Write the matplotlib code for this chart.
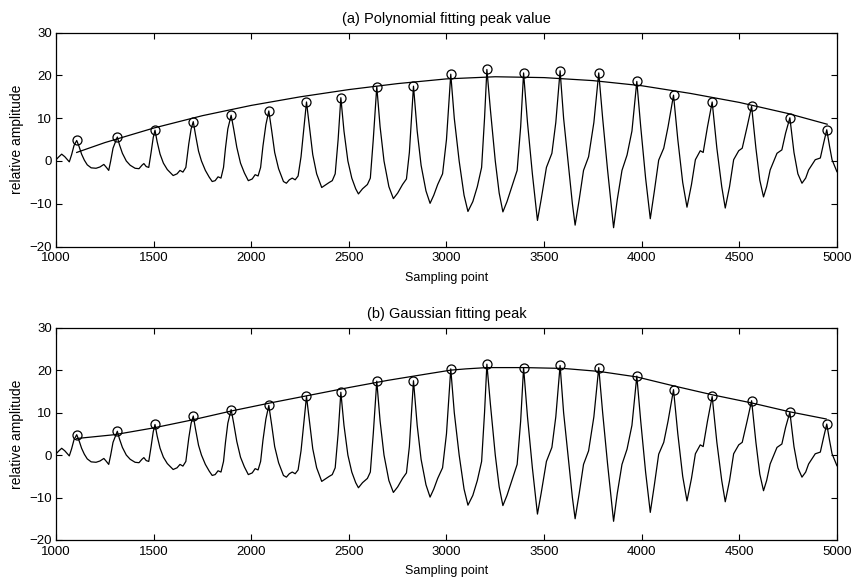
import matplotlib
matplotlib.use("Agg")
import matplotlib.pyplot as plt
import numpy as np

plt.rcParams['font.family'] = ['Liberation Sans', 'DejaVu Sans']

sig_x = [1000, 1015, 1029, 1045, 1068, 1080, 1092, 1106, 1118, 1131, 1145, 1160, 1180, 1205, 1225,
         1245, 1258, 1270, 1280, 1292, 1314, 1325, 1340, 1360, 1380, 1405, 1425, 1440, 1450, 1462,
         1475, 1487, 1498, 1507, 1518, 1533, 1550, 1570, 1600, 1620, 1635, 1650, 1665, 1680, 1692,
         1703, 1715, 1730, 1745, 1765, 1785, 1800, 1815, 1830, 1845, 1858, 1868, 1880, 1897, 1910,
         1926, 1945, 1965, 1985, 2005, 2020, 2035, 2048, 2060, 2075, 2090, 2105, 2120, 2140, 2165,
         2180, 2195, 2210, 2225, 2240, 2255, 2270, 2283, 2298, 2315, 2335, 2361, 2380, 2400, 2415,
         2430, 2445, 2459, 2475, 2495, 2515, 2535, 2549, 2570, 2595, 2610, 2625, 2643, 2660, 2680,
         2705, 2728, 2750, 2775, 2795, 2810, 2831, 2850, 2870, 2895, 2916, 2935, 2955, 2980, 3000,
         3022, 3040, 3065, 3090, 3110, 3135, 3158, 3180, 3195, 3207, 3225, 3250, 3270, 3289, 3310,
         3335, 3362, 3380, 3395, 3415, 3440, 3466, 3485, 3512, 3540, 3560, 3582, 3600, 3625, 3645,
         3659, 3680, 3702, 3728, 3755, 3780, 3800, 3825, 3843, 3856, 3875, 3899, 3925, 3950, 3975,
         3995, 4020, 4044, 4065, 4087, 4113, 4135, 4163, 4185, 4210, 4232, 4255, 4275, 4300, 4315,
         4337, 4361, 4385, 4410, 4428, 4450, 4471, 4497, 4515, 4540, 4563, 4585, 4605, 4624, 4640,
         4658, 4693, 4718, 4737, 4759, 4780, 4800, 4821, 4840, 4855, 4889, 4915, 4932, 4948, 4962,
         4975, 5000]
sig_y = [0.3, 1.0, 1.6, 1.0, -0.2, 1.5, 3.6, 4.8, 3.4, 1.6, 0.2, -0.9, -1.6, -1.7, -1.4,
         -0.8, -1.5, -2.2, 0.0, 3.0, 5.6, 3.8, 1.8, 0.0, -1.0, -1.7, -1.8, -1.0, -0.6, -1.3,
         -1.5, 2.0, 5.5, 7.2, 4.5, 1.6, -0.5, -2.0, -3.4, -3.0, -2.2, -2.6, -1.5, 4.0, 7.5,
         9.2, 6.0, 2.3, 0.0, -2.2, -3.8, -4.8, -4.6, -3.7, -4.0, -1.5, 3.0, 7.5, 10.7, 7.5,
         3.2, -0.5, -2.8, -4.6, -4.2, -3.2, -3.5, -1.5, 3.5, 8.5, 11.7, 7.0, 2.0, -1.8, -4.8,
         -5.2, -4.4, -4.0, -4.4, -3.5, 1.0, 8.0, 13.8, 8.0, 1.5, -3.0, -6.2, -5.6, -5.0, -4.6,
         -3.0, 5.0, 14.8, 7.0, 0.0, -4.0, -6.5, -7.7, -6.5, -5.5, -4.0, 5.0, 17.4, 8.0, 0.0,
         -6.0, -8.8, -7.5, -5.5, -4.2, 2.0, 17.5, 7.0, -1.0, -7.0, -9.9, -8.0, -5.5, -3.0, 5.0,
         20.3, 10.0, 0.0, -8.0, -11.8, -9.5, -6.0, -1.5, 10.0, 21.4, 12.0, 0.0, -7.5, -11.9, -9.5,
         -6.0, -2.2, 8.0, 20.6, 9.0, -3.0, -13.9, -9.0, -1.5, 1.8, 9.0, 21.1, 10.0, -1.0, -10.0,
         -15.0, -9.0, -2.2, 1.0, 9.0, 20.6, 10.0, -2.0, -10.0, -15.6, -9.0, -2.2, 1.4, 7.0, 18.6,
         8.0, -4.0, -13.5, -7.0, 0.2, 3.0, 8.0, 15.4, 5.0, -5.0, -10.8, -5.5, 0.3, 2.4, 2.0,
         8.0, 13.8, 3.0, -6.0, -11.0, -6.0, 0.3, 2.4, 3.0, 8.0, 12.8, 3.0, -4.5, -8.4, -6.0,
         -2.1, 1.8, 2.6, 6.5, 10.1, 2.0, -3.0, -5.2, -4.0, -2.1, 0.3, 0.7, 4.2, 7.3, 3.5,
         0.3, -2.5]

# detected peaks
peak_x = [1106, 1314, 1507, 1703, 1897, 2090, 2283, 2459, 2643, 2831, 3022,
          3207, 3395, 3582, 3780, 3975, 4163, 4361, 4563, 4759, 4948]
peak_y = [4.8, 5.6, 7.2, 9.2, 10.7, 11.7, 13.8, 14.8, 17.4, 17.5, 20.3,
          21.4, 20.6, 21.1, 20.6, 18.6, 15.4, 13.8, 12.8, 10.1, 7.3]

# polynomial fit curve
poly_x = [1106, 1250, 1500, 1750, 2000, 2250, 2500, 2750, 3000, 3250, 3500,
          3750, 4000, 4250, 4500, 4750, 4950]
poly_y = [2.0, 4.3, 7.7, 10.6, 13.0, 15.0, 16.7, 18.1, 19.2, 19.7, 19.5,
          18.8, 17.6, 15.8, 13.7, 11.1, 8.6]

# gaussian fit curve
gauss_x = [1106, 1300, 1500, 1700, 1900, 2100, 2300, 2500, 2700, 2900, 3022,
           3100, 3207, 3400, 3600, 3782, 3975, 4163, 4361, 4561, 4757, 4945]
gauss_y = [3.9, 4.8, 6.4, 8.3, 10.4, 12.3, 14.1, 15.9, 17.6, 19.1, 20.0,
           20.3, 20.6, 20.6, 20.4, 19.7, 18.4, 16.3, 14.2, 12.3, 10.2, 8.5]

fig = plt.figure(figsize=(8.54, 5.81), dpi=100)
ax1 = fig.add_axes([0.0656, 0.5757, 0.9144, 0.368])
ax2 = fig.add_axes([0.0656, 0.0706, 0.9144, 0.3654])

panels = [(ax1, poly_x, poly_y, "(a) Polynomial fitting peak value"),
          (ax2, gauss_x, gauss_y, "(b) Gaussian fitting peak")]

for ax, fx, fy, title in panels:
    ax.plot(sig_x, sig_y, color="black", lw=0.9)
    ax.plot(fx, fy, color="black", lw=0.9)
    ax.plot(peak_x, peak_y, "o", mfc="none", mec="black", ms=6.5, mew=0.9)
    ax.set_xlim(1000, 5000)
    ax.set_ylim(-20, 30)
    ax.set_xticks(np.arange(1000, 5001, 500))
    ax.set_yticks(np.arange(-20, 31, 10))
    ax.tick_params(direction="in", top=True, right=True, length=4, width=0.8,
                   labelsize=9.5)
    ax.tick_params(axis="x", pad=4)
    ax.tick_params(axis="y", pad=3)
    for s in ax.spines.values():
        s.set_linewidth(0.9)
    ax.set_title(title, fontsize=10.5, pad=7)
    ax.set_xlabel("Sampling point", fontsize=9, va="center")
    ax.xaxis.set_label_coords(0.5, -0.145)
    ax.set_ylabel("relative amplitude", fontsize=10, va="center")
    ax.yaxis.set_label_coords(-0.05, 0.5)

fig.savefig("out.png", dpi=100)
